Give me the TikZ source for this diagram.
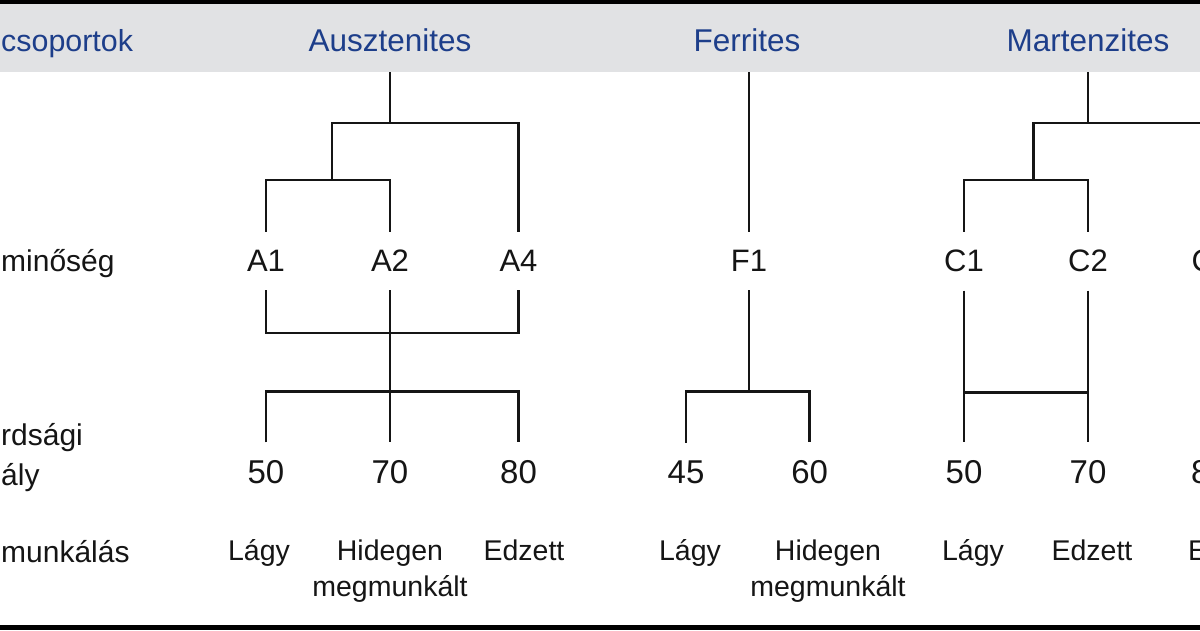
\documentclass[tikz,border=0pt]{standalone}
\usepackage{fontspec}
\setmainfont{Liberation Sans}
\definecolor{hdrblue}{HTML}{1D3E8A}
\definecolor{bandgray}{HTML}{E1E2E4}
\definecolor{ink}{HTML}{151515}
\begin{document}
\begin{tikzpicture}[x=1pt,y=-1pt,
  hdr/.style={anchor=base, inner sep=0pt, outer xsep=0pt, outer ysep=20.3pt, text=hdrblue,
    font=\fontsize{31.5}{36}\selectfont},
  hdrside/.style={anchor=base west, inner sep=0pt, text=hdrblue, font=\fontsize{30.4}{36}\selectfont},
  grade/.style={anchor=base, inner sep=0pt, outer xsep=0pt, outer ysep=18.5pt, text=ink,
    font=\fontsize{31}{36}\selectfont},
  num/.style={anchor=base, inner sep=0pt, outer xsep=0pt, outer ysep=18pt, text=ink,
    font=\fontsize{33}{36}\selectfont},
  proc/.style={anchor=base, inner sep=0pt, text=ink, align=center,
    font=\fontsize{28.5}{35.3}\selectfont},
  side/.style={anchor=base west, inner sep=0pt, text=ink, font=\fontsize{30}{36}\selectfont},
  edge/.style={anchor=base west, inner sep=0pt, text=ink},
  link/.style={draw=ink, line width=2.8pt, line join=miter}
]
\useasboundingbox (0,0) rectangle (1200,630);
\clip (0,0) rectangle (1200,630);
% background, band and borders
\fill[white] (0,0) rectangle (1200,630);
\fill[bandgray] (0,3.5) rectangle (1200,72);
\fill[black] (0,0) rectangle (1200,4);
\fill[black] (0,624.5) rectangle (1200,630);

% header row
\node[hdrside] (hcsop) at (1,51.7) {csoportok};
\node[hdr] (aus) at (390,51.7) {Ausztenites};
\node[hdr] (fer) at (747,51.7) {Ferrites};
\node[hdr] (mar) at (1088,51.7) {Martenzites};

% grade row
\node[side] (lmin) at (1,271.7) {minőség};
\node[grade] (a1) at (266,271.7) {A1};
\node[grade] (a2) at (390,271.7) {A2};
\node[grade] (a4) at (518.5,271.7) {A4};
\node[grade] (f1) at (749,271.7) {F1};
\node[grade] (c1) at (964,271.7) {C1};
\node[grade] (c2) at (1088,271.7) {C2};
\node[edge, font=\fontsize{31}{36}\selectfont] (c3) at (1191.5,271.7) {C};

% strength class row
\node[side] (lszil) at (1,445) {rdsági};
\node[side] (losz) at (1,485) {ály};
\node[num] (n50) at (266,483.3) {50};
\node[num] (n70) at (390,483.3) {70};
\node[num] (n80) at (518.5,483.3) {80};
\node[num] (n45) at (686,483.3) {45};
\node[num] (n60) at (809.7,483.3) {60};
\node[num] (m50) at (964,483.3) {50};
\node[num] (m70) at (1088,483.3) {70};
\node[edge, font=\fontsize{33}{36}\selectfont] (m80) at (1191,483.3) {8};

% processing row
\node[side] (lmeg) at (1,562) {munkálás};
\node[proc] (pa1) at (259,560.7) {Lágy};
\node[proc] (pa2) at (390,596) {Hidegen\\megmunkált};
\node[proc] (pa3) at (524,560.7) {Edzett};
\node[proc] (pf1) at (690,560.7) {Lágy};
\node[proc] (pf2) at (828,596) {Hidegen\\megmunkált};
\node[proc] (pc1) at (973,560.7) {Lágy};
\node[proc] (pc2) at (1092,560.7) {Edzett};
\node[edge, font=\fontsize{28.5}{35.3}\selectfont] (pc3) at (1188,560.7) {E};

% junctions
\coordinate (jAus) at (390,123);
\coordinate (jA12) at (332,180);
\coordinate (jAmid) at (390,333);
\coordinate (jAnum) at (390,391.7);
\coordinate (jF) at (749,391.7);
\coordinate (jMar) at (1088,123);
\coordinate (jC12) at (1033.6,180);
\coordinate (jMarR) at (1205,123);
\coordinate (jC1) at (964,392.7);
\coordinate (jC2) at (1088,392.7);

% Ausztenites tree
\draw[link] (aus.south) -- (jAus);
\draw[link] (a4.north) |- (jA12 |- jAus) -- (jA12);
\draw[link] (a1.north) |- (jA12) -| (a2.north);
\draw[link] (a1.south) |- (jAmid) -| (a4.south);
\draw[link] (a2.south) -- (n70.north);
\draw[link] (n50.north) |- (jAnum) -| (n80.north);

% Ferrites tree
\draw[link] (f1.north |- fer.south) -- (f1.north);
\draw[link] (f1.south) -- (jF);
\draw[link] (n45.north) |- (jF) -| (n60.north);

% Martenzites tree
\draw[link] (mar.south) -- (jMar);
\draw[link] (jC12) -- (jC12 |- jMar) -- (jMarR);
\draw[link] (c1.north) |- (jC12) -| (c2.north);
\draw[link] (c1.south) -- (m50.north);
\draw[link] (c2.south) -- (m70.north);
\draw[link] (jC1) -- (jC2);
\end{tikzpicture}
\end{document}
